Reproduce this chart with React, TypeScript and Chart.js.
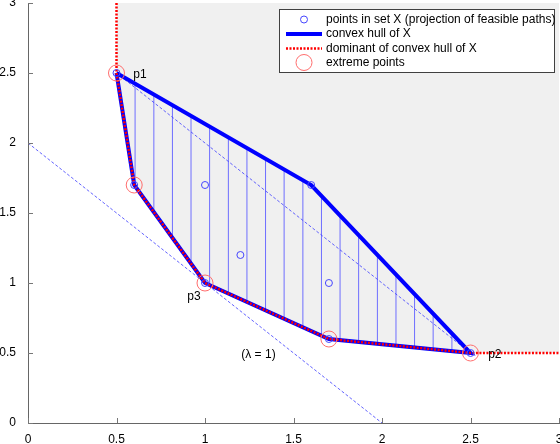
import React, { useEffect, useRef } from 'react';
import { Chart, registerables } from 'chart.js';
Chart.register(...registerables);

// Data
const pointsX = [0.5, 0.6, 1.0, 1.0, 1.2, 1.6, 1.7, 1.7, 2.5];
const pointsY = [2.5, 1.7, 1.7, 1.0, 1.2, 1.7, 1.0, 0.6, 0.5];

const hullX = [0.5, 1.6, 2.5, 1.7, 1.0, 0.6, 0.5];
const hullY = [2.5, 1.7, 0.5, 0.6, 1.0, 1.7, 2.5];

const upperX = [0.5, 1.6, 2.5];
const upperY = [2.5, 1.7, 0.5];
const lowerX = [0.5, 0.6, 1.0, 1.7, 2.5];
const lowerY = [2.5, 1.7, 1.0, 0.6, 0.5];

const domX = [0.5, 0.5, 0.6, 1.0, 1.7, 2.5, 3.0];
const domY = [3.0, 2.5, 1.7, 1.0, 0.6, 0.5, 0.5];

const extX = [0.5, 0.6, 1.0, 1.7, 2.5];
const extY = [2.5, 1.7, 1.0, 0.6, 0.5];

const hatchX = [0.605, 0.711, 0.816, 0.921, 1.026, 1.132, 1.237, 1.342, 1.447, 1.553, 1.658, 1.763, 1.868, 1.974, 2.079, 2.184, 2.289, 2.395];

const lambdaX = [0, 2];
const lambdaY = [2, 0];
const chordX = [0.5, 2.5];
const chordY = [2.5, 0.5];

const annText = ['p1', 'p2', 'p3', '(\u03bb = 1)'];
const annX = [0.595, 2.6, 0.9, 1.205];
const annY = [2.49, 0.49, 0.9, 0.485];

const legendLabels = [
  'points in set X (projection of feasible paths)',
  'convex hull of X',
  'dominant of convex hull of X',
  'extreme points',
];

const tickValues = [0, 0.5, 1, 1.5, 2, 2.5, 3];

const FONT = '"Liberation Sans", Arial, Helvetica, sans-serif';

function interp(xs: number[], ys: number[], x: number): number {
  for (let i = 0; i < xs.length - 1; i++) {
    if (x >= xs[i] && x <= xs[i + 1]) {
      const t = (x - xs[i]) / (xs[i + 1] - xs[i]);
      return ys[i] + t * (ys[i + 1] - ys[i]);
    }
  }
  return ys[ys.length - 1];
}

const zip = (xs: number[], ys: number[]) => xs.map((x, i) => ({ x, y: ys[i] }));

export default function App() {
  const ref = useRef<HTMLCanvasElement | null>(null);

  useEffect(() => {
    if (!ref.current) return;

    const hatchData: any[] = [];
    hatchX.forEach((x) => {
      hatchData.push({ x, y: interp(lowerX, lowerY, x) });
      hatchData.push({ x, y: interp(upperX, upperY, x) });
      hatchData.push({ x, y: null });
    });

    const overlay = {
      id: 'overlay',
      afterDatasetsDraw(chart: any) {
        const ctx = chart.ctx;
        const xs = chart.scales.x;
        const ys = chart.scales.y;
        const area = chart.chartArea;
        ctx.save();
        ctx.strokeStyle = '#777777';
        ctx.lineWidth = 1;
        tickValues.forEach((v) => {
          const px = Math.round(xs.getPixelForValue(v)) + 0.5;
          ctx.beginPath();
          ctx.moveTo(px, area.bottom);
          ctx.lineTo(px, area.bottom - 5);
          ctx.stroke();
          const py = Math.round(ys.getPixelForValue(v)) + 0.5;
          ctx.beginPath();
          ctx.moveTo(area.left, py);
          ctx.lineTo(area.left + 5, py);
          ctx.stroke();
        });
        ctx.fillStyle = '#000000';
        ctx.font = '12px ' + FONT;
        ctx.textAlign = 'left';
        ctx.textBaseline = 'middle';
        annText.forEach((t, i) => {
          ctx.fillText(t, xs.getPixelForValue(annX[i]), ys.getPixelForValue(annY[i]));
        });
        ctx.restore();
      },
      afterDraw(chart: any) {
        const ctx = chart.ctx;
        ctx.save();
        const bx = 279.5, by = 9.5, bw = 275, bh = 63;
        ctx.fillStyle = '#ffffff';
        ctx.fillRect(bx, by, bw, bh);
        ctx.strokeStyle = '#404040';
        ctx.lineWidth = 1;
        ctx.strokeRect(bx, by, bw, bh);
        const rows = [19.5, 34, 48.5, 62.5];
        const mx = 304;
        ctx.strokeStyle = 'rgb(70,70,255)';
        ctx.lineWidth = 1;
        ctx.beginPath();
        ctx.arc(mx, rows[0], 3.5, 0, Math.PI * 2);
        ctx.stroke();
        ctx.strokeStyle = '#0000ff';
        ctx.lineWidth = 4;
        ctx.beginPath();
        ctx.moveTo(286, rows[1]);
        ctx.lineTo(322, rows[1]);
        ctx.stroke();
        ctx.strokeStyle = '#ff0000';
        ctx.lineWidth = 2.5;
        ctx.setLineDash([2, 1.5]);
        ctx.beginPath();
        ctx.moveTo(286, rows[2]);
        ctx.lineTo(322, rows[2]);
        ctx.stroke();
        ctx.setLineDash([]);
        ctx.strokeStyle = 'rgb(255,110,110)';
        ctx.lineWidth = 1;
        ctx.beginPath();
        ctx.arc(mx, rows[3], 8, 0, Math.PI * 2);
        ctx.stroke();
        ctx.fillStyle = '#000000';
        ctx.font = '12px ' + FONT;
        ctx.textAlign = 'left';
        ctx.textBaseline = 'middle';
        legendLabels.forEach((t, i) => ctx.fillText(t, 326, rows[i]));
        ctx.restore();
      },
    };

    const fitY = (s: any) => {
      s.width = 28;
      s.paddingTop = 0; s.paddingBottom = 0; s.paddingLeft = 0; s.paddingRight = 0;
    };
    const fitX = (s: any) => {
      s.height = 21;
      s.paddingTop = 0; s.paddingBottom = 0; s.paddingLeft = 0; s.paddingRight = 0;
    };
    const fmt = (v: any) => String(Number(v));

    const chart = new Chart(ref.current, {
      type: 'scatter',
      data: {
        datasets: [
          {
            label: 'extreme',
            data: zip(extX, extY),
            showLine: false,
            pointRadius: 8,
            pointBorderWidth: 1,
            pointBorderColor: 'rgb(255,110,110)',
            pointBackgroundColor: 'rgba(0,0,0,0)',
            order: 0,
          },
          {
            label: 'points',
            data: zip(pointsX, pointsY),
            showLine: false,
            pointRadius: 3.5,
            pointBorderWidth: 1,
            pointBorderColor: 'rgb(70,70,255)',
            pointBackgroundColor: 'rgba(0,0,0,0)',
            order: 1,
          },
          {
            label: 'dominant',
            data: zip(domX, domY),
            showLine: true,
            borderColor: '#ff0000',
            borderWidth: 2.5,
            borderDash: [2, 1.5],
            pointRadius: 0,
            fill: false,
            order: 2,
          },
          {
            label: 'hull',
            data: zip(hullX, hullY),
            showLine: true,
            borderColor: '#0000ff',
            borderWidth: 4,
            borderJoinStyle: 'miter',
            pointRadius: 0,
            fill: false,
            order: 3,
          },
          {
            label: 'lambda',
            data: zip(lambdaX, lambdaY),
            showLine: true,
            borderColor: 'rgb(60,60,255)',
            borderWidth: 0.8,
            borderDash: [3, 2],
            pointRadius: 0,
            fill: false,
            order: 4,
          },
          {
            label: 'chord',
            data: zip(chordX, chordY),
            showLine: true,
            borderColor: 'rgb(60,60,255)',
            borderWidth: 0.8,
            borderDash: [3, 2],
            pointRadius: 0,
            fill: false,
            order: 5,
          },
          {
            label: 'hatch',
            data: hatchData,
            showLine: true,
            spanGaps: false,
            borderColor: 'rgb(110,110,255)',
            borderWidth: 1,
            pointRadius: 0,
            fill: false,
            order: 6,
          },
          {
            label: 'region',
            data: zip(domX, domY),
            showLine: true,
            borderWidth: 0,
            borderColor: 'rgba(0,0,0,0)',
            backgroundColor: '#f0f0f0',
            pointRadius: 0,
            fill: 'end',
            order: 7,
          },
        ],
      } as any,
      options: {
        responsive: false,
        animation: false,
        layout: { autoPadding: false, padding: { top: 3, right: 1, left: 0, bottom: 0 } },
        plugins: {
          legend: { display: false },
          tooltip: { enabled: false },
          filler: { drawTime: 'beforeDatasetsDraw' },
        } as any,
        scales: {
          x: {
            type: 'linear',
            min: 0,
            max: 3,
            afterFit: fitX,
            grid: { display: false },
            border: { display: true, color: '#666666', width: 1 },
            ticks: {
              stepSize: 0.5,
              padding: 1,
              color: '#000000',
              maxRotation: 0,
              autoSkip: false,
              callback: fmt,
              font: { family: FONT, size: 12 },
            },
          },
          y: {
            type: 'linear',
            min: 0,
            max: 3,
            afterFit: fitY,
            grid: { display: false },
            border: { display: true, color: '#666666', width: 1 },
            ticks: {
              stepSize: 0.5,
              padding: 4,
              color: '#000000',
              autoSkip: false,
              callback: fmt,
              font: { family: FONT, size: 12 },
            },
          },
        },
      } as any,
      plugins: [overlay],
    });

    return () => chart.destroy();
  }, []);

  return (
    <div style={{ position: 'fixed', left: 0, top: 0, width: 560, height: 444, background: '#ffffff' }}>
      <canvas ref={ref} width={560} height={444} />
    </div>
  );
}
